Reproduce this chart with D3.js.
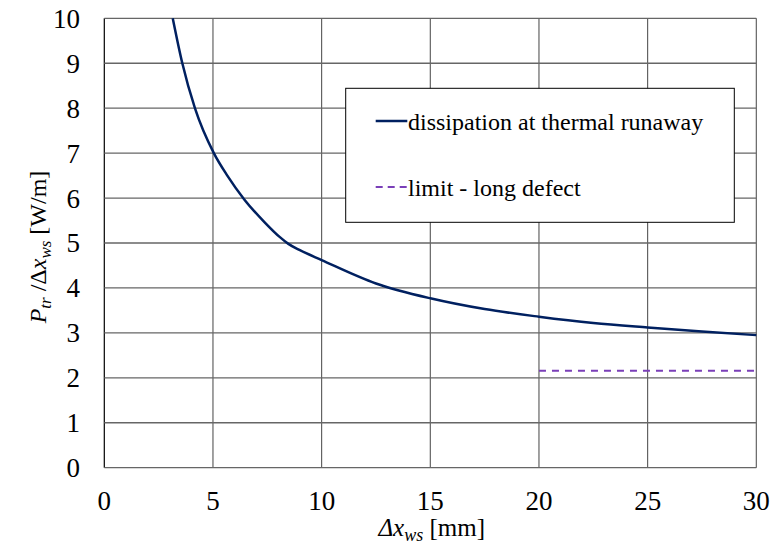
<!DOCTYPE html>
<html><head><meta charset="utf-8">
<script src="https://cdn.jsdelivr.net/npm/d3@7"></script>
<style>
body{margin:0;background:#fff}svg{display:block}
svg text{font-family:"Liberation Serif",Tinos,"Times New Roman","Noto Serif","DejaVu Serif",FreeSerif,serif}
</style>
</head><body><svg id="c" width="775" height="557"></svg>
<script>
const curveX = [3.15, 3.59, 4.17, 5.04, 5.66, 6.44, 7.4, 8.08, 8.47, 9, 10, 12.5, 15, 17.5, 20, 22.5, 25, 27.5, 30];
const curveY = [10, 9, 8, 7, 6.5, 5.97, 5.45, 5.13, 4.98, 4.84, 4.62, 4.1, 3.77, 3.53, 3.36, 3.22, 3.12, 3.03, 2.95];
const limitX = [20, 30];
const limitY = [2.16, 2.16];
const xTicks = [0, 5, 10, 15, 20, 25, 30];
const yTicks = [0, 1, 2, 3, 4, 5, 6, 7, 8, 9, 10];
const seriesNames = ["dissipation at thermal runaway", "limit - long defect"];

const svg = d3.select("#c");
const L = 104.3, R = 756.3, T = 18.3, B = 467.7;
const x = d3.scaleLinear().domain([0, 30]).range([L, R]);
const y = d3.scaleLinear().domain([0, 10]).range([B, T]);

// grid
const g = svg.append("g");
g.selectAll(".gx").data(xTicks).join("line")
  .attr("x1", d => x(d)).attr("x2", d => x(d)).attr("y1", T).attr("y2", B)
  .attr("stroke", d => d === 0 ? "#000" : "#555").attr("stroke-width", d => d === 0 ? 1.2 : 1.1);
g.selectAll(".gy").data(yTicks).join("line")
  .attr("x1", L).attr("x2", R).attr("y1", d => y(d)).attr("y2", d => y(d))
  .attr("stroke", "#666").attr("stroke-width", 1.3);

// tick labels
svg.append("g").selectAll("text").data(yTicks).join("text")
  .attr("x", 80).attr("y", d => y(d)).attr("dy", "0.35em").attr("text-anchor", "end")
  .attr("font-size", 27).text(d => d);
svg.append("g").selectAll("text").data(xTicks).join("text")
  .attr("x", d => x(d)).attr("y", 510).attr("text-anchor", "middle")
  .attr("font-size", 27).text(d => d);

// limit line
svg.append("path").datum(limitX.map((v, i) => [v, limitY[i]]))
  .attr("d", d3.line().x(d => x(d[0])).y(d => y(d[1])))
  .attr("fill", "none").attr("stroke", "#7a3fb8").attr("stroke-width", 2)
  .attr("stroke-dasharray", "7,6");
// curve
svg.append("path").datum(curveX.map((v, i) => [v, curveY[i]]))
  .attr("d", d3.line().x(d => x(d[0])).y(d => y(d[1])).curve(d3.curveMonotoneX))
  .attr("fill", "none").attr("stroke", "#002060").attr("stroke-width", 2.5);

// legend
const lg = svg.append("g");
lg.append("rect").attr("x", 345.7).attr("y", 88.3).attr("width", 388.6).attr("height", 134)
  .attr("fill", "#fff").attr("stroke", "#000").attr("stroke-width", 1);
lg.append("line").attr("x1", 375.7).attr("x2", 407.3).attr("y1", 121).attr("y2", 121)
  .attr("stroke", "#002060").attr("stroke-width", 2.5);
lg.append("text").attr("x", 408).attr("y", 129.5).attr("font-size", 24).text(seriesNames[0]);
lg.append("line").attr("x1", 375.7).attr("x2", 407.3).attr("y1", 187).attr("y2", 187)
  .attr("stroke", "#7a3fb8").attr("stroke-width", 2).attr("stroke-dasharray", "7,5");
lg.append("text").attr("x", 408).attr("y", 195.5).attr("font-size", 24).text(seriesNames[1]);

// x title
const xt = svg.append("text").attr("x", 431.7).attr("y", 536).attr("text-anchor", "middle").attr("font-size", 25);
xt.append("tspan").attr("font-style", "italic").text("Δx");
xt.append("tspan").attr("font-style", "italic").attr("font-size", 18).attr("dy", 5).text("ws");
xt.append("tspan").attr("dy", -5).text(" [mm]");

// y title
const yt = svg.append("text").attr("transform", "translate(46,247) rotate(-90)").attr("text-anchor", "middle").attr("font-size", 24);
yt.append("tspan").attr("font-style", "italic").text("P");
yt.append("tspan").attr("font-style", "italic").attr("font-size", 17).attr("dy", 5).text("tr");
yt.append("tspan").attr("dy", -5).text(" /Δ");
yt.append("tspan").attr("font-style", "italic").text("x");
yt.append("tspan").attr("font-style", "italic").attr("font-size", 17).attr("dy", 5).text("ws");
yt.append("tspan").attr("dy", -5).text(" [W/m]");
</script></body></html>
